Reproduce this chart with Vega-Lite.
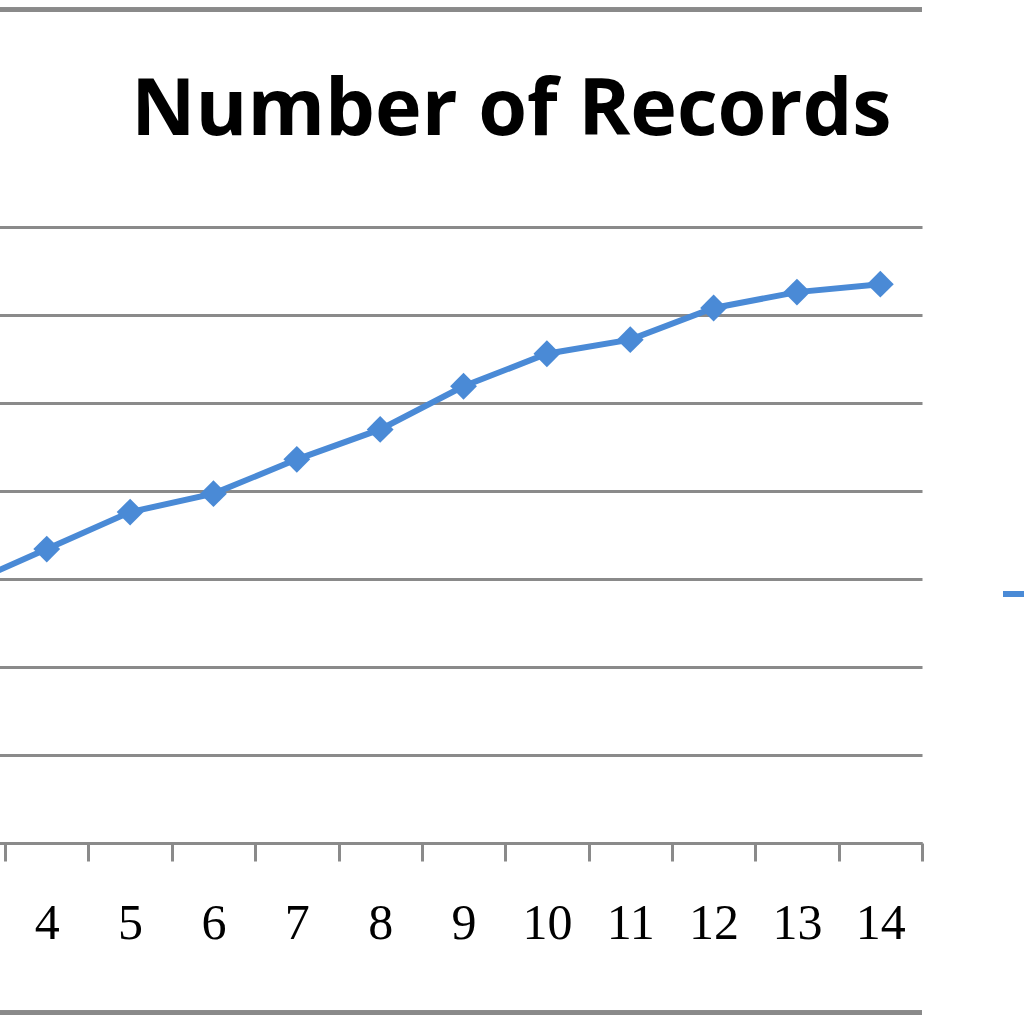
{
  "$schema": "https://vega.github.io/schema/vega-lite/v6.json",
  "autosize": {"type": "none"},
  "padding": {"left": -245, "top": 227, "right": 102, "bottom": 181},
  "width": 1167,
  "height": 616,
  "background": "white",
  "title": {
    "text": "Number of Records",
    "font": "Open Sans",
    "fontSize": 79,
    "fontWeight": "bold",
    "color": "#000000",
    "anchor": "middle",
    "dx": 173,
    "baseline": "alphabetic",
    "offset": -206
  },
  "data": {
    "values": [
      {"n": "1", "records": 2.2, "series": "Number of Records"},
      {"n": "2", "records": 2.6, "series": "Number of Records"},
      {"n": "3", "records": 2.92, "series": "Number of Records"},
      {"n": "4", "records": 3.34, "series": "Number of Records"},
      {"n": "5", "records": 3.76, "series": "Number of Records"},
      {"n": "6", "records": 3.97, "series": "Number of Records"},
      {"n": "7", "records": 4.36, "series": "Number of Records"},
      {"n": "8", "records": 4.7, "series": "Number of Records"},
      {"n": "9", "records": 5.19, "series": "Number of Records"},
      {"n": "10", "records": 5.56, "series": "Number of Records"},
      {"n": "11", "records": 5.72, "series": "Number of Records"},
      {"n": "12", "records": 6.08, "series": "Number of Records"},
      {"n": "13", "records": 6.26, "series": "Number of Records"},
      {"n": "14", "records": 6.35, "series": "Number of Records"}
    ]
  },
  "config": {
    "view": {"stroke": null},
    "axisY": {
      "title": null,
      "values": [0, 1, 2, 3, 4, 5, 6, 7],
      "domain": false,
      "ticks": false,
      "labels": false,
      "grid": true,
      "gridColor": "#8a8a8a",
      "gridWidth": 3,
      "gridOpacity": 1
    }
  },
  "layer": [
    {
      "mark": {"type": "rule", "color": "#8a8a8a", "strokeWidth": 4, "clip": false},
      "encoding": {"y": {"datum": 9.47, "type": "quantitative", "scale": {"domain": [0, 7], "nice": false}}}
    },
    {
      "mark": {"type": "rule", "color": "#8a8a8a", "strokeWidth": 4, "clip": false},
      "encoding": {"y": {"datum": -1.93, "type": "quantitative"}}
    },
    {
      "mark": {"type": "line", "strokeWidth": 6, "point": {"shape": "diamond", "size": 720, "filled": true}},
      "encoding": {
        "x": {
          "field": "n",
          "type": "ordinal",
          "sort": null,
          "scale": {"paddingInner": 0, "paddingOuter": 0},
          "axis": {
            "title": null,
            "labelAngle": 0,
            "labelFont": "Liberation Serif",
            "labelFontSize": 50,
            "labelColor": "#000000",
            "labelBaseline": "alphabetic",
            "labelPadding": 77,
            "tickBand": "extent",
            "tickSize": 18,
            "tickWidth": 3,
            "tickColor": "#8a8a8a",
            "domainColor": "#8a8a8a",
            "domainWidth": 3,
            "grid": false
          }
        },
        "y": {
          "field": "records",
          "type": "quantitative",
          "scale": {"domain": [0, 7], "nice": false},
          "axis": {"values": [0, 1, 2, 3, 4, 5, 6, 7], "grid": true}
        },
        "color": {
          "field": "series",
          "type": "nominal",
          "scale": {"range": ["#4a8ad6"]},
          "legend": {
            "title": null,
            "orient": "none",
            "legendX": 1243,
            "legendY": 347,
            "symbolType": "stroke",
            "symbolStrokeWidth": 6,
            "symbolSize": 900,
            "labelFontSize": 40,
            "labelFont": "Liberation Serif"
          }
        }
      }
    }
  ]
}
